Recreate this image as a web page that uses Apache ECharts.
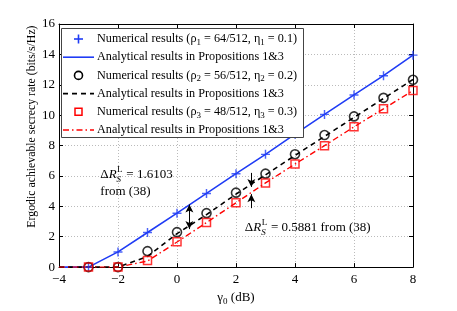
<!DOCTYPE html>
<html><head><meta charset="utf-8">
<script src="https://cdn.jsdelivr.net/npm/echarts@6/dist/echarts.min.js"></script>
<style>html,body{margin:0;padding:0;background:#fff}#c{width:457px;height:311px}</style>
</head><body><div id="c"></div>
<script>
var xNum = [-3,-2,-1,0,1,2,3,4,5,6,7,8];
var xAna = [-4,-3,-2,-1,0,1,2,3,4,5,6,7,8];
var num1 = [0,1.0,2.28,3.55,4.85,6.15,7.42,8.75,10.05,11.33,12.6,13.95];
var ana1 = [0,0,1.0,2.28,3.55,4.85,6.15,7.42,8.75,10.05,11.33,12.6,13.95];
var num2 = [0,0,1.05,2.3,3.55,4.9,6.15,7.43,8.69,9.92,11.14,12.33];
var ana2 = [0,0,0,0.7,2.2,3.45,4.8,6.07,7.35,8.6,9.85,11.1,12.35];
var num3 = [0,0,0.43,1.67,2.93,4.23,5.54,6.78,7.99,9.23,10.42,11.62];
var ana3 = [0,0,0,0.4,1.65,2.93,4.23,5.54,6.78,7.99,9.23,10.42,11.62];
var legendLabels = [
  'Numerical results (ρ{s|1} = 64/512, η{s|1} = 0.1)',
  'Analytical results in Propositions 1&3',
  'Numerical results (ρ{s|2} = 56/512, η{s|2} = 0.2)',
  'Analytical results in Propositions 1&3',
  'Numerical results (ρ{s|3} = 48/512, η{s|3} = 0.3)',
  'Analytical results in Propositions 1&3'
];
var arrow1 = {x:0.42, y1:4.12, y2:2.5};
var arrow2 = {x:2.52, downFrom:6.2, downTo:5.28, upFrom:3.88, upTo:4.8};
var note1 = {x:-2.6, y:6.1, value:'1.6103'};
var note2 = {x:2.3, y:2.6, value:'0.5881'};

var BLUE = '#1f3cf5', RED = '#f00', BLACK = '#000';
function pairs(xs, ys){ return xs.map(function(x,i){return [x, ys[i]];}); }
var FONT = 'Liberation Serif';
var chart = echarts.init(document.getElementById('c'), null, {renderer:'canvas'});
var plus = 'path://M4.2,0H5.8V4.2H10V5.8H5.8V10H4.2V5.8H0V4.2H4.2Z';
var option = {
  animation:false,
  backgroundColor:'#fff',
  textStyle:{fontFamily:FONT},
  grid:{left:59, top:24, width:354, height:247},
  xAxis:[{
    type:'value', min:-4, max:8, interval:2,
    name:'γ{s|0} (dB)', nameLocation:'middle', nameGap:19,
    nameTextStyle:{fontFamily:FONT, fontSize:13, color:'#000', rich:{s:{fontSize:9, fontFamily:FONT, padding:[8,0,0,0]}}},
    axisLine:{onZero:false, lineStyle:{color:'#000', width:1}},
    axisTick:{inside:true, length:4, lineStyle:{color:'#000'}},
    axisLabel:{color:'#000', fontFamily:FONT, fontSize:13, margin:6, formatter:function(v){return String(v).replace('-','−');}},
    splitLine:{show:true, lineStyle:{color:'#bbb', type:[1,2], width:1}}
  },{
    type:'value', min:-4, max:8, interval:2, position:'top',
    axisLine:{onZero:false, lineStyle:{color:'#000'}}, axisTick:{inside:true, length:4, lineStyle:{color:'#000'}},
    axisLabel:{show:false}, splitLine:{show:false}
  }],
  yAxis:[{
    type:'value', min:0, max:16, interval:2,
    name:'Ergodic achievable secrecy rate (bits/s/Hz)', nameLocation:'middle', nameGap:21, nameMoveOverlap:false,
    nameTextStyle:{fontFamily:FONT, fontSize:11.8, color:'#000', padding:[0,0,0,38]},
    axisLine:{onZero:false, lineStyle:{color:'#000', width:1}},
    axisTick:{inside:true, length:4, lineStyle:{color:'#000'}},
    axisLabel:{color:'#000', fontFamily:FONT, fontSize:13, margin:4},
    splitLine:{show:true, lineStyle:{color:'#bbb', type:[1,2], width:1}}
  },{
    type:'value', min:0, max:16, interval:2, position:'right',
    axisLine:{onZero:false, lineStyle:{color:'#000'}}, axisTick:{inside:true, length:4, lineStyle:{color:'#000'}},
    axisLabel:{show:false}, splitLine:{show:false}
  }],
  series:[
    {name:'num1', type:'scatter', data:pairs(xNum,num1), symbol:plus, symbolSize:9, z:5,
     itemStyle:{color:BLUE}},
    {name:'ana1', type:'line', data:pairs(xAna,ana1), symbol:'none', z:3,
     lineStyle:{color:BLUE, width:1.6},
     markLine:{silent:true, symbol:['arrow','arrow'], symbolSize:[6,8], label:{show:false},
       lineStyle:{color:'#000', width:1, type:'solid'},
       data:[
         [{coord:[arrow1.x, arrow1.y1]},{coord:[arrow1.x, arrow1.y2]}],
         [{coord:[arrow2.x, arrow2.downFrom], symbol:'none'},{coord:[arrow2.x, arrow2.downTo], symbol:'arrow'}],
         [{coord:[arrow2.x, arrow2.upFrom], symbol:'none'},{coord:[arrow2.x, arrow2.upTo], symbol:'arrow'}]
       ]}},
    {name:'num2', type:'scatter', data:pairs(xNum,num2), symbol:'circle', symbolSize:9, z:5,
     itemStyle:{color:'transparent', borderColor:BLACK, borderWidth:1.6}},
    {name:'ana2', type:'line', data:pairs(xAna,ana2), symbol:'none', z:3,
     lineStyle:{color:BLACK, width:1.6, type:[5,4]}},
    {name:'num3', type:'scatter', data:pairs(xNum,num3), symbol:'rect', symbolSize:8, z:5,
     itemStyle:{color:'transparent', borderColor:RED, borderWidth:1.5}},
    {name:'ana3', type:'line', data:pairs(xAna,ana3), symbol:'none', z:3,
     lineStyle:{color:RED, width:1.4, type:[6,3,1.5,3]}}
  ]
};
chart.setOption(option);

// custom legend (MATLAB style)
var LG = {x:61, y:28, w:242, h:109, row0:39, gap:18.2, sx0:63, sx1:94, tx:97};
var g = [];
g.push({type:'rect', z:100, shape:{x:LG.x+0.5, y:LG.y+0.5, width:LG.w, height:LG.h}, style:{fill:'#fff', stroke:'#444', lineWidth:1}});
var icons = [
  function(cy){ var cx=(LG.sx0+LG.sx1)/2; return [
    {type:'line', z:101, shape:{x1:cx-4.5,y1:cy,x2:cx+4.5,y2:cy}, style:{stroke:BLUE, lineWidth:1.6}},
    {type:'line', z:101, shape:{x1:cx,y1:cy-4.5,x2:cx,y2:cy+4.5}, style:{stroke:BLUE, lineWidth:1.6}}]; },
  function(cy){ return [{type:'line', z:101, shape:{x1:LG.sx0,y1:cy,x2:LG.sx1,y2:cy}, style:{stroke:BLUE, lineWidth:1.6}}]; },
  function(cy){ var cx=(LG.sx0+LG.sx1)/2; return [{type:'circle', z:101, shape:{cx:cx,cy:cy,r:4}, style:{fill:'none', stroke:BLACK, lineWidth:1.6}}]; },
  function(cy){ return [{type:'line', z:101, shape:{x1:LG.sx0,y1:cy,x2:LG.sx1,y2:cy}, style:{stroke:BLACK, lineWidth:1.6, lineDash:[5,4]}}]; },
  function(cy){ var cx=(LG.sx0+LG.sx1)/2; return [{type:'rect', z:101, shape:{x:cx-3.5,y:cy-3.5,width:7,height:7}, style:{fill:'none', stroke:RED, lineWidth:1.5}}]; },
  function(cy){ return [{type:'line', z:101, shape:{x1:LG.sx0,y1:cy,x2:LG.sx1,y2:cy}, style:{stroke:RED, lineWidth:1.4, lineDash:[6,3,1.5,3]}}]; }
];
legendLabels.forEach(function(t,i){
  var cy = LG.row0 + i*LG.gap;
  g = g.concat(icons[i](cy));
  g.push({type:'text', z:101, x:LG.tx, y:cy, style:{text:t, fontFamily:FONT, fontSize:12.2, fill:'#000', verticalAlign:'middle',
    rich:{s:{fontSize:9, fontFamily:FONT, verticalAlign:'bottom', padding:[7,0,0,0]}}}});
});

// annotation texts placed in data coordinates
var cv = document.createElement('canvas').getContext('2d');
function w(t, size, style){ cv.font = (style||'') + ' ' + size + 'px "' + FONT + '"'; return cv.measureText(t).width; }
function deltaNote(n, tail, lines2){
  var p = chart.convertToPixel({gridIndex:0}, [n.x, n.y]);
  var x = p[0], y = p[1];
  var els = [];
  var st = function(t, xx, yy, size, style){ return {type:'text', x:xx, y:yy, z:100, style:{text:t, fontFamily:FONT, fontSize:size, fontStyle:style||'normal', fill:'#000', verticalAlign:'middle'}}; };
  els.push(st('Δ', x, y, 13));
  var x1 = x + w('Δ',13);
  els.push(st('R', x1, y, 13, 'italic'));
  var x2 = x1 + w('R',13,'italic');
  els.push(st('L', x2+0.5, y-5, 9));
  els.push(st('S', x2, y+5, 9, 'italic'));
  var x3 = x2 + Math.max(w('L',9), w('S',9,'italic')) + 1;
  els.push(st(' = ' + n.value + tail, x3, y, 13));
  if (lines2) els.push(st(lines2, x, y+17, 13));
  return els;
}
g = g.concat(deltaNote(note1, '', 'from (38)')).concat(deltaNote(note2, ' from (38)', null));
chart.setOption({graphic:g});
</script></body></html>
